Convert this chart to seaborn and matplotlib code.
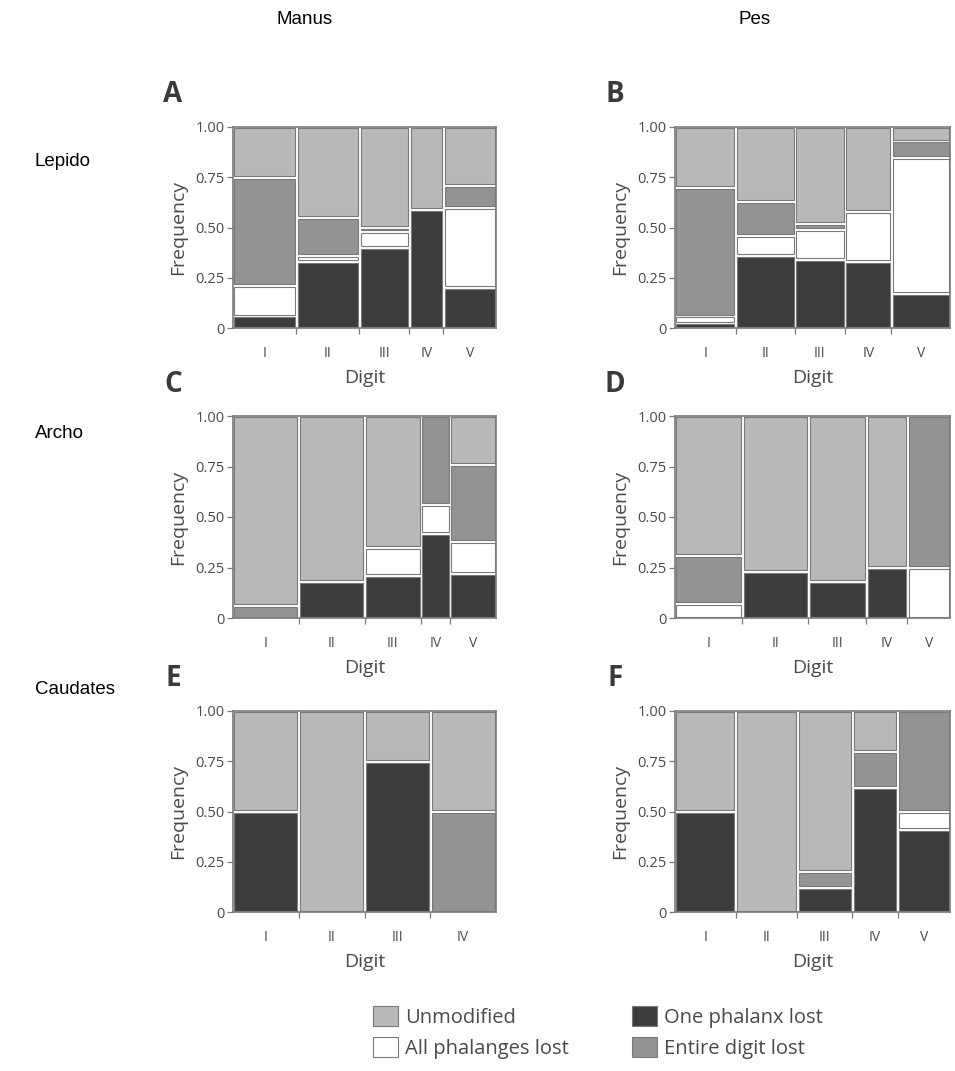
import numpy as np
import pandas as pd
import matplotlib
matplotlib.use("Agg")
import matplotlib.pyplot as plt
from matplotlib.patches import Patch
import seaborn as sns

# ---- data -------------------------------------------------------------
states = ["One phalanx lost", "All phalanges lost", "Entire digit lost", "Unmodified"]
state_colors = {
    "Unmodified": "#b9b9b9",
    "All phalanges lost": "#ffffff",
    "One phalanx lost": "#3c3c3c",
    "Entire digit lost": "#939393",
}

digits5 = ["I", "II", "III", "IV", "V"]
digits4 = ["I", "II", "III", "IV"]

# Lepidosaurs, manus (A)
widths_a = [0.24, 0.24, 0.19, 0.13, 0.20]
one_a = [0.06, 0.33, 0.40, 0.59, 0.20]
all_a = [0.15, 0.03, 0.08, 0.00, 0.40]
entire_a = [0.54, 0.19, 0.02, 0.00, 0.11]
unmod_a = [0.25, 0.45, 0.50, 0.41, 0.29]

# Lepidosaurs, pes (B)
widths_b = [0.22, 0.216, 0.182, 0.169, 0.213]
one_b = [0.025, 0.36, 0.34, 0.33, 0.17]
all_b = [0.035, 0.10, 0.15, 0.25, 0.68]
entire_b = [0.64, 0.17, 0.03, 0.00, 0.08]
unmod_b = [0.30, 0.37, 0.48, 0.42, 0.07]

# Archosaurs, manus (C)
widths_c = [0.25, 0.25, 0.215, 0.11, 0.175]
one_c = [0.00, 0.18, 0.21, 0.42, 0.22]
all_c = [0.00, 0.00, 0.14, 0.14, 0.16]
entire_c = [0.06, 0.00, 0.00, 0.44, 0.38]
unmod_c = [0.94, 0.82, 0.65, 0.00, 0.24]

# Archosaurs, pes (D)
widths_d = [0.245, 0.24, 0.21, 0.15, 0.155]
one_d = [0.00, 0.23, 0.18, 0.25, 0.00]
all_d = [0.07, 0.00, 0.00, 0.00, 0.25]
entire_d = [0.24, 0.00, 0.00, 0.00, 0.75]
unmod_d = [0.69, 0.77, 0.82, 0.75, 0.00]

# Caudates, manus (E)
widths_e = [0.25, 0.25, 0.25, 0.25]
one_e = [0.50, 0.00, 0.75, 0.00]
all_e = [0.00, 0.00, 0.00, 0.00]
entire_e = [0.00, 0.00, 0.00, 0.50]
unmod_e = [0.50, 1.00, 0.25, 0.50]

# Caudates, pes (F)
widths_f = [0.22, 0.225, 0.20, 0.165, 0.19]
one_f = [0.50, 0.00, 0.12, 0.62, 0.41]
all_f = [0.00, 0.00, 0.00, 0.00, 0.09]
entire_f = [0.00, 0.00, 0.08, 0.18, 0.50]
unmod_f = [0.50, 1.00, 0.80, 0.20, 0.00]

col_titles = ["Manus", "Pes"]
row_titles = ["Lepido", "Archo", "Caudates"]
ytick_vals = [0, 0.25, 0.50, 0.75, 1.00]
ytick_labels = ["0", "0.25", "0.50", "0.75", "1.00"]

# ---- style ------------------------------------------------------------
sns.set_theme(style="ticks")
plt.rcParams["font.family"] = ["Open Sans", "DejaVu Sans"]
TXT = "#4a4a4a"
FRAME = "#7a7a7a"

W, H = 955, 1071
fig = plt.figure(figsize=(W / 100, H / 100), dpi=100)


def px_axes(x0, y0, x1, y1):
    return fig.add_axes([x0 / W, 1 - y1 / H, (x1 - x0) / W, (y1 - y0) / H])


def mosaic(ax, digits, widths, parts):
    w = np.asarray(widths, float)
    w = w / w.sum()
    edges = [0.0] + [float(v) for v in np.cumsum(w)]
    centers = [(a + b) / 2 for a, b in zip(edges[:-1], edges[1:])]
    rows = []
    for state, vals in zip(states, parts):
        for c, v in zip(centers, vals):
            rows.append({"pos": c, "state": state, "freq": v})
    df = pd.DataFrame(rows)
    sns.histplot(data=df, x="pos", weights="freq", hue="state",
                 hue_order=states[::-1], palette=state_colors,
                 bins=edges, multiple="fill", legend=False, ax=ax,
                 alpha=1, edgecolor=FRAME, linewidth=0.8)

    # pull every tile in a little so that white gaps separate the tiles
    bbox = ax.get_position()
    axw, axh = bbox.width * W, bbox.height * H
    dx, dy = 1.4 / axw, 1.4 / axh
    for p in list(ax.patches):
        x, y, pw, ph = p.get_x(), p.get_y(), p.get_width(), p.get_height()
        if ph <= 1e-6:
            p.set_visible(False)
            continue
        p.set_x(x + dx)
        p.set_width(pw - 2 * dx)
        p.set_y(y + dy)
        p.set_height(max(ph - 2 * dy, 0.002))

    ax.set_xlim(0, 1)
    ax.set_ylim(0, 1)
    ax.set_xticks(centers)
    ax.set_xticklabels(digits, fontsize=10, color=TXT)
    ax.set_xticks(edges[1:-1], minor=True)
    ax.tick_params(axis="x", which="major", length=0, pad=13)
    ax.tick_params(axis="x", which="minor", length=4, width=0.9,
                   color=FRAME, direction="out")
    ax.set_yticks(ytick_vals)
    ax.set_yticklabels(ytick_labels, fontsize=10.5, color=TXT)
    ax.tick_params(axis="y", length=4, width=0.9, color=FRAME, pad=2)
    ax.set_xlabel("Digit", fontsize=14, color=TXT, labelpad=6)
    ax.set_ylabel("Frequency", fontsize=14, color=TXT, labelpad=6)
    for s in ax.spines.values():
        s.set_visible(True)
        s.set_color(FRAME)
        s.set_linewidth(1.2)


panels = [
    ("A", digits5, widths_a, [one_a, all_a, entire_a, unmod_a]),
    ("B", digits5, widths_b, [one_b, all_b, entire_b, unmod_b]),
    ("C", digits5, widths_c, [one_c, all_c, entire_c, unmod_c]),
    ("D", digits5, widths_d, [one_d, all_d, entire_d, unmod_d]),
    ("E", digits4, widths_e, [one_e, all_e, entire_e, unmod_e]),
    ("F", digits5, widths_f, [one_f, all_f, entire_f, unmod_f]),
]

col_x = [(233, 496), (675, 950)]
row_y = [(127, 328), (416, 618), (711, 912)]

for i, (letter, digits, widths, parts) in enumerate(panels):
    r, c = divmod(i, 2)
    x0, x1 = col_x[c]
    y0, y1 = row_y[r]
    ax = px_axes(x0, y0, x1, y1)
    mosaic(ax, digits, widths, parts)
    fig.text((x0 - 60) / W, 1 - (y0 - 32) / H, letter, fontsize=20,
             fontweight="bold", color="#3a3a3a", ha="center", va="center")

# column and row headings
head_font = ["Liberation Sans", "DejaVu Sans"]
for title, xc in zip(col_titles, [305, 755]):
    fig.text(xc / W, 1 - 20 / H, title, fontsize=13.5, family=head_font,
             ha="center", va="center", color="black")
for title, yc in zip(row_titles, [162, 434, 690]):
    fig.text(35 / W, 1 - yc / H, title, fontsize=13.5, family=head_font,
             ha="left", va="center", color="black")

# legend
handles = [Patch(facecolor=state_colors[s], edgecolor=FRAME, linewidth=0.8,
                 label=s)
           for s in ["Unmodified", "All phalanges lost",
                     "One phalanx lost", "Entire digit lost"]]
fig.legend(handles=handles, ncol=2, loc="upper left",
           bbox_to_anchor=(373 / W, 1 - 1006 / H), frameon=False,
           fontsize=14.5, handlelength=1.25, handleheight=1.15,
           handletextpad=0.35, columnspacing=3.1, labelspacing=0.45,
           borderpad=0, borderaxespad=0, labelcolor=TXT)

fig.savefig("out.png", dpi=100)
